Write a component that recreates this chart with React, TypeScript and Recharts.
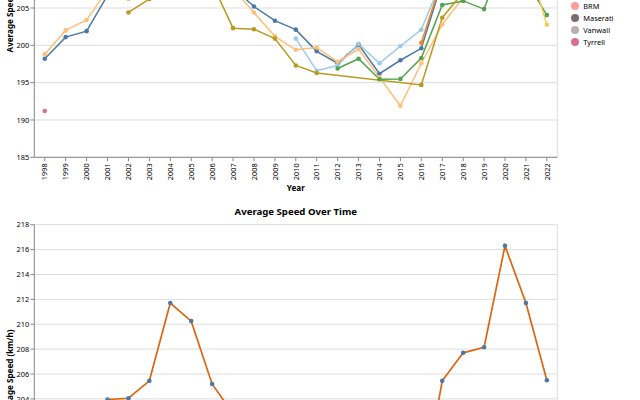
import { LineChart, Line, XAxis, YAxis, CartesianGrid, ReferenceLine } from "recharts";

// Seasons on the x axis
const years = [
  1998, 1999, 2000, 2001, 2002, 2003, 2004, 2005, 2006, 2007, 2008, 2009, 2010,
  2011, 2012, 2013, 2014, 2015, 2016, 2017, 2018, 2019, 2020, 2021, 2022,
];

// Average race speed per constructor (km/h), null where the team did not race
const ferrari = [198.2, 201.1, 201.9, 206.7, 208.0, 210.0, 214.0, 213.0, 209.0, 207.7, 205.2, 203.3, 202.1, 199.2, 197.6, 200.1, 196.2, 198.0, 199.6, 208.6, 209.5, 210.0, 215.0, 211.0, 209.5];
const mercedes = [null, null, null, null, null, null, null, null, null, null, null, null, 200.9, 196.6, 197.3, 200.2, 197.6, 199.9, 202.1, 208.9, 211.0, 210.5, 215.5, 212.5, 210.0];
const haas = [null, null, null, null, null, null, null, null, null, null, null, null, null, null, null, null, null, null, 200.35, 209.0, 210.5, 211.0, 216.0, 212.0, 209.0];
const mclaren = [198.8, 202.0, 203.4, 207.4, 206.2, 208.0, 213.0, 212.0, 209.0, 207.6, 204.4, 201.2, 199.4, 199.7, 197.8, 199.5, 195.7, 191.9, 197.6, 202.8, 206.4, 208.0, 215.0, 210.0, 209.0];
const sauber = [null, null, null, null, null, null, null, null, null, null, null, null, null, null, 196.9, 198.2, 195.45, 195.5, 198.3, 205.4, 205.95, 204.85, 212.5, 208.7, 204.05];
const renault = [null, null, null, null, 204.4, 206.2, 211.0, 210.0, 208.3, 202.3, 202.15, 200.9, 197.3, 196.3, null, null, null, null, 194.7, 203.7, 207.1, 209.0, 214.0, 211.0, null];
const alpine = [null, null, null, null, null, null, null, null, null, null, null, null, null, null, null, null, null, null, null, null, null, null, null, 212.1, 202.75];
const tyrrell = [191.2, null, null, null, null, null, null, null, null, null, null, null, null, null, null, null, null, null, null, null, null, null, null, null, null];

// Season-wide average speed (km/h)
const averageSpeed = [197.0, 201.5, 202.7, 203.95, 204.05, 205.45, 211.7, 210.25, 205.2, 202.8, 203.2, 201.8, 200.0, 198.6, 197.5, 199.4, 196.2, 195.9, 196.1, 205.45, 207.7, 208.15, 216.3, 211.7, 205.5];

const topTicks = [185, 190, 195, 200, 205, 210, 215, 220, 225];
const bottomTicks = [194, 196, 198, 200, 202, 204, 206, 208, 210, 212, 214, 216, 218];

// Legend order and tableau20 colours
const constructors = [
  { key: "ferrari", name: "Ferrari", color: "#4c78a8", values: ferrari },
  { key: "mercedes", name: "Mercedes", color: "#9ecae9", values: mercedes },
  { key: "haas", name: "Haas F1 Team", color: "#f58518", values: haas },
  { key: "mclaren", name: "McLaren", color: "#ffbf79", values: mclaren },
  { key: "sauber", name: "Sauber", color: "#54a24b", values: sauber },
  { key: "williams", name: "Williams", color: "#88d27a", values: null },
  { key: "renault", name: "Renault", color: "#b79a20", values: renault },
  { key: "alpine", name: "Alpine F1 Team", color: "#f2cf5b", values: alpine },
  { key: "lotus", name: "Lotus", color: "#439894", values: null },
  { key: "brabham", name: "Brabham", color: "#83bcb6", values: null },
  { key: "cooper", name: "Cooper", color: "#e45756", values: null },
  { key: "brm", name: "BRM", color: "#ff9d98", values: null },
  { key: "maserati", name: "Maserati", color: "#79706e", values: null },
  { key: "vanwall", name: "Vanwall", color: "#bab0ac", values: null },
  { key: "tyrrell", name: "Tyrrell", color: "#d67195", values: tyrrell },
];

const byConstructor = years.map((year, i) => {
  const row: Record<string, number | null> = { year };
  constructors.forEach((c) => {
    if (c.values) row[c.key] = c.values[i];
  });
  return row;
});

const overall = years.map((year, i) => ({ year, speed: averageSpeed[i] }));

const FONT = "'Noto Sans', sans-serif";
const LABEL_SIZE = 7.4;
const TITLE_SIZE = 8.1;
const DOMAIN = "#888";
const GRID = "#ddd";

function YearTick({ x, y, payload }: any) {
  return (
    <g transform={`translate(${x},${y}) rotate(-90)`}>
      <text x={0} y={0} dy={2.7} textAnchor="end" fontSize={LABEL_SIZE} fill="#000">
        {payload.value}
      </text>
    </g>
  );
}

function xTitle(text: string) {
  return ({ viewBox }: any) => (
    <text
      x={viewBox.x + viewBox.width / 2}
      y={viewBox.y + 33.4}
      textAnchor="middle"
      fontSize={TITLE_SIZE}
      fontWeight="bold"
      fill="#000"
    >
      {text}
    </text>
  );
}

function yTitle(text: string) {
  return ({ viewBox }: any) => {
    const x = 12.7;
    const y = viewBox.y + viewBox.height / 2;
    return (
      <text
        x={x}
        y={y}
        transform={`rotate(-90, ${x}, ${y})`}
        textAnchor="middle"
        fontSize={TITLE_SIZE}
        fontWeight="bold"
        fill="#000"
      >
        {text}
      </text>
    );
  };
}

const xAxisProps = {
  type: "number" as const,
  dataKey: "year",
  domain: [1997.5, 2022.5],
  ticks: years,
  interval: 0 as const,
  height: 40,
  tickSize: 4,
  tickMargin: 2,
  tick: <YearTick />,
  axisLine: { stroke: DOMAIN },
  tickLine: { stroke: DOMAIN },
};

const yAxisProps = {
  type: "number" as const,
  width: 34.3,
  tickSize: 4,
  tickMargin: 1,
  interval: 0 as const,
  tick: { fontSize: LABEL_SIZE, fill: "#000" },
  axisLine: { stroke: DOMAIN },
  tickLine: { stroke: DOMAIN },
};

function SpeedByConstructor() {
  return (
    <LineChart
      width={640}
      height={360}
      data={byConstructor}
      margin={{ top: 8.7, right: 82.7, bottom: 12.7, left: 0 }}
    >
      <CartesianGrid vertical={false} stroke={GRID} />
      <ReferenceLine x={2022.5} stroke={GRID} />
      <XAxis {...xAxisProps} label={{ content: xTitle("Year") }} />
      <YAxis
        {...yAxisProps}
        domain={[185, 225]}
        ticks={topTicks}
        label={{ content: yTitle("Average Speed (km/h)") }}
      />
      {constructors
        .filter((c) => c.values)
        .map((c) => (
          <Line
            key={c.key}
            type="linear"
            dataKey={c.key}
            name={c.name}
            stroke={c.color}
            strokeWidth={1.5}
            dot={{ r: 2.3, fill: c.color, stroke: c.color, strokeWidth: 0 }}
            activeDot={false}
            connectNulls
            isAnimationActive={false}
          />
        ))}
    </LineChart>
  );
}

function SpeedOverTime() {
  return (
    <LineChart
      width={640}
      height={380}
      data={overall}
      margin={{ top: 24.7, right: 82.7, bottom: 16.7, left: 0 }}
    >
      <CartesianGrid vertical={false} stroke={GRID} />
      <ReferenceLine x={2022.5} stroke={GRID} />
      <XAxis {...xAxisProps} label={{ content: xTitle("Year") }} />
      <YAxis
        {...yAxisProps}
        domain={[194, 218]}
        ticks={bottomTicks}
        label={{ content: yTitle("Average Speed (km/h)") }}
      />
      <Line
        type="linear"
        dataKey="speed"
        name="Average Speed"
        stroke="#df6410"
        strokeWidth={1.7}
        dot={{ r: 2.3, fill: "#4c78a8", stroke: "#4c78a8", strokeWidth: 0 }}
        activeDot={false}
        isAnimationActive={false}
      />
    </LineChart>
  );
}

export default function App() {
  return (
    <div
      style={{
        position: "fixed",
        left: 0,
        top: 0,
        width: 640,
        height: 400,
        overflow: "hidden",
        background: "#fff",
        fontFamily: FONT,
      }}
    >
      <div style={{ position: "absolute", left: 0, top: -150 }}>
        <SpeedByConstructor />
      </div>
      <div style={{ position: "absolute", left: 0, top: 200 }}>
        <SpeedOverTime />
      </div>
      <svg
        width={640}
        height={400}
        style={{ position: "absolute", left: 0, top: 0, pointerEvents: "none" }}
      >
        {/* constructor legend, 12px per row */}
        {constructors.map((c, i) => {
          const cy = 6 + (i - 11) * 12;
          return (
            <g key={c.key}>
              <circle cx={575} cy={cy} r={4} fill={c.color} />
              <text x={583.3} y={cy} dy={2.6} fontSize={LABEL_SIZE} fill="#000">
                {c.name}
              </text>
            </g>
          );
        })}
        <text x={295.8} y={215} textAnchor="middle" fontSize={9.6} fontWeight="bold" fill="#000">
          Average Speed Over Time
        </text>
      </svg>
    </div>
  );
}
